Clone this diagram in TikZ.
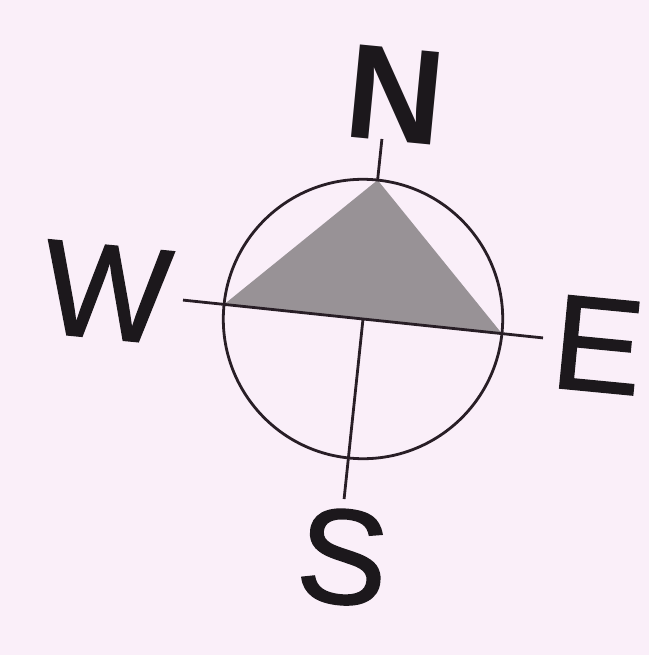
\documentclass[tikz,border=0pt]{standalone}
\usepackage{fontspec}
\setmainfont{Liberation Sans}
\newfontfamily\heavyfont[FakeBold=1.2]{Liberation Sans}
\definecolor{bgc}{RGB}{250,239,249}
\definecolor{tric}{RGB}{152,146,150}
\definecolor{linec}{RGB}{40,30,38}
\definecolor{txtc}{RGB}{28,24,28}
\begin{document}
\begin{tikzpicture}[x=1pt,y=1pt,
  axis/.style={draw=linec,line width=2.8pt},
  letter/.style={inner sep=0pt,text=txtc,rotate=-5.5,font=\heavyfont\fontsize{135}{135}\selectfont}]
\fill[bgc] (0,0) rectangle (649,-655);
\useasboundingbox (0,0) rectangle (649,-655);
\begin{scope}[shift={(363,-319)},rotate=-6]
  \coordinate (c) at (0,0);
  \coordinate (top) at (90:139.7);
  \coordinate (left) at (180:139.7);
  \coordinate (right) at (0:139.7);
  \coordinate (nt) at (90:181);
  \coordinate (st) at (270:181);
  \coordinate (wt) at (180:181);
  \coordinate (et) at (0:181);
  \fill[tric] (top)--(left)--(right)--cycle;
  \draw[axis] (wt)--(et);
  \draw[axis] (c)--(st);
  \draw[axis] (top)--(nt);
  \draw[axis] (c) circle (139.7);
\end{scope}
\node[letter,font=\fontsize{135}{135}\selectfont\bfseries] (n) at (395,-95) {N};
\node[letter] (w) at (107,-292) {W};
\node[letter] (e) at (598,-345) {E};
\node[letter] (s) at (343,-557) {S};
\end{tikzpicture}
\end{document}
